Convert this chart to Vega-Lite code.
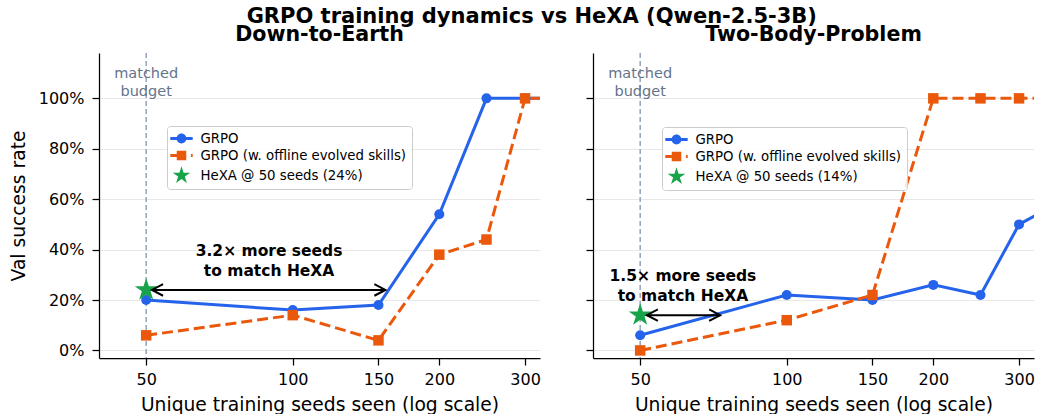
{
  "$schema": "https://vega.github.io/schema/vega-lite/v6.json",
  "background": "white",
  "padding": {"left": 9, "top": 5, "right": 0, "bottom": 0},
  "title": {"text": "GRPO training dynamics vs HeXA (Qwen-2.5-3B)", "anchor": "middle", "fontSize": 21, "fontWeight": "bold", "offset": -2, "dx": 10},
  "datasets": {
    "d2e": [
      {"seeds": 50, "rate": 20, "series": "GRPO"},
      {"seeds": 100, "rate": 16, "series": "GRPO"},
      {"seeds": 150, "rate": 18, "series": "GRPO"},
      {"seeds": 200, "rate": 54, "series": "GRPO"},
      {"seeds": 250, "rate": 100, "series": "GRPO"},
      {"seeds": 300, "rate": 100, "series": "GRPO"},
      {"seeds": 350, "rate": 100, "series": "GRPO"},
      {"seeds": 50, "rate": 6, "series": "GRPO (w. offline evolved skills)"},
      {"seeds": 100, "rate": 14, "series": "GRPO (w. offline evolved skills)"},
      {"seeds": 150, "rate": 4, "series": "GRPO (w. offline evolved skills)"},
      {"seeds": 200, "rate": 38, "series": "GRPO (w. offline evolved skills)"},
      {"seeds": 250, "rate": 44, "series": "GRPO (w. offline evolved skills)"},
      {"seeds": 300, "rate": 100, "series": "GRPO (w. offline evolved skills)"},
      {"seeds": 350, "rate": 100, "series": "GRPO (w. offline evolved skills)"}
    ],
    "tbp": [
      {"seeds": 50, "rate": 6, "series": "GRPO"},
      {"seeds": 100, "rate": 22, "series": "GRPO"},
      {"seeds": 150, "rate": 20, "series": "GRPO"},
      {"seeds": 200, "rate": 26, "series": "GRPO"},
      {"seeds": 250, "rate": 22, "series": "GRPO"},
      {"seeds": 300, "rate": 50, "series": "GRPO"},
      {"seeds": 350, "rate": 57, "series": "GRPO"},
      {"seeds": 50, "rate": 0, "series": "GRPO (w. offline evolved skills)"},
      {"seeds": 100, "rate": 12, "series": "GRPO (w. offline evolved skills)"},
      {"seeds": 150, "rate": 22, "series": "GRPO (w. offline evolved skills)"},
      {"seeds": 200, "rate": 100, "series": "GRPO (w. offline evolved skills)"},
      {"seeds": 250, "rate": 100, "series": "GRPO (w. offline evolved skills)"},
      {"seeds": 300, "rate": 100, "series": "GRPO (w. offline evolved skills)"},
      {"seeds": 350, "rate": 100, "series": "GRPO (w. offline evolved skills)"}
    ]
  },
  "spacing": 44,
  "hconcat": [
    {
      "title": {"text": "Down-to-Earth", "baseline": "alphabetic", "offset": -9, "fontSize": 20.6},
      "width": 441,
      "height": 305,
      "data": {"name": "d2e"},
      "layer": [
        {
          "data": {"values": [{}]},
          "mark": {"type": "rule", "color": "#94a3b8", "strokeWidth": 1.5, "strokeDash": [5, 3]},
          "encoding": {"x": {"datum": 50, "type": "quantitative", "scale": {"type": "log", "domain": [40, 322], "nice": false}}}
        },
        {
          "data": {"values": [{}]},
          "mark": {"type": "text", "color": "#64748b", "fontSize": 14.5, "lineHeight": 17.7, "align": "center", "baseline": "middle"},
          "encoding": {
            "x": {"datum": 50, "type": "quantitative", "scale": {"type": "log", "domain": [40, 322], "nice": false}},
            "y": {"datum": 109.7, "type": "quantitative", "scale": {"domain": [-3, 118], "nice": false, "zero": false}},
            "text": {"value": ["matched", "budget"]}
          }
        },
        {
          "transform": [{"filter": "datum.series === 'GRPO'"}],
          "mark": {"type": "line", "strokeWidth": 3, "clip": true, "color": "#2563eb"},
          "encoding": {
            "x": {"field": "seeds", "type": "quantitative", "scale": {"type": "log", "domain": [40, 322], "nice": false},
                  "axis": {"values": [50, 100, 150, 200, 300], "format": "d", "title": "Unique training seeds seen (log scale)", "grid": false, "tickSize": 7, "labelPadding": 6, "titlePadding": 8}},
            "y": {"field": "rate", "type": "quantitative", "scale": {"domain": [-3, 118], "nice": false, "zero": false},
                  "axis": {"values": [0, 20, 40, 60, 80, 100], "labelExpr": "datum.value + '%'", "title": "Val success rate", "grid": true, "tickSize": 7, "labelPadding": 8, "titlePadding": 10}}
          }
        },
        {
          "transform": [{"filter": "datum.series === 'GRPO'"}],
          "mark": {"type": "point", "shape": "circle", "filled": true, "size": 100, "opacity": 1, "clip": true, "color": "#2563eb"},
          "encoding": {
            "x": {"field": "seeds", "type": "quantitative", "scale": {"type": "log", "domain": [40, 322], "nice": false}},
            "y": {"field": "rate", "type": "quantitative", "scale": {"domain": [-3, 118], "nice": false, "zero": false}}
          }
        },
        {
          "transform": [{"filter": "datum.series !== 'GRPO'"}],
          "mark": {"type": "line", "strokeWidth": 3, "strokeDash": [11, 5], "clip": true, "color": "#ea580c"},
          "encoding": {
            "x": {"field": "seeds", "type": "quantitative", "scale": {"type": "log", "domain": [40, 322], "nice": false}},
            "y": {"field": "rate", "type": "quantitative", "scale": {"domain": [-3, 118], "nice": false, "zero": false}}
          }
        },
        {
          "transform": [{"filter": "datum.series !== 'GRPO'"}],
          "mark": {"type": "point", "shape": "square", "filled": true, "size": 110, "opacity": 1, "clip": true, "color": "#ea580c"},
          "encoding": {
            "x": {"field": "seeds", "type": "quantitative", "scale": {"type": "log", "domain": [40, 322], "nice": false}},
            "y": {"field": "rate", "type": "quantitative", "scale": {"domain": [-3, 118], "nice": false, "zero": false}}
          }
        },
        {
          "data": {"values": [{"seeds": 50, "rate": 24}]},
          "mark": {"type": "point", "shape": "M0,-1L0.2234,-0.3075L0.9511,-0.309L0.3614,0.1174L0.5878,0.809L0,0.38L-0.5878,0.809L-0.3614,0.1174L-0.9511,-0.309L-0.2234,-0.3075Z", "filled": true, "color": "#16a34a", "size": 576, "opacity": 1},
          "encoding": {
            "x": {"field": "seeds", "type": "quantitative", "scale": {"type": "log", "domain": [40, 322], "nice": false}},
            "y": {"field": "rate", "type": "quantitative", "scale": {"domain": [-3, 118], "nice": false, "zero": false}}
          }
        },
        {
          "data": {"values": [{"from": 51.4, "to": 155, "level": 24}]},
          "mark": {"type": "rule", "color": "black", "strokeWidth": 2},
          "encoding": {
            "x": {"field": "from", "type": "quantitative", "scale": {"type": "log", "domain": [40, 322], "nice": false}},
            "x2": {"field": "to"},
            "y": {"field": "level", "type": "quantitative", "scale": {"domain": [-3, 118], "nice": false, "zero": false}}
          }
        },
        {
          "data": {"values": [{"from": 51.4, "level": 24}]},
          "mark": {"type": "point", "shape": "M1.9,-1L0,0L1.9,1", "filled": false, "stroke": "black", "strokeWidth": 2, "size": 135, "opacity": 1},
          "encoding": {
            "x": {"field": "from", "type": "quantitative", "scale": {"type": "log", "domain": [40, 322], "nice": false}},
            "y": {"field": "level", "type": "quantitative", "scale": {"domain": [-3, 118], "nice": false, "zero": false}}
          }
        },
        {
          "data": {"values": [{"to": 155, "level": 24}]},
          "mark": {"type": "point", "shape": "M-1.9,-1L0,0L-1.9,1", "filled": false, "stroke": "black", "strokeWidth": 2, "size": 135, "opacity": 1},
          "encoding": {
            "x": {"field": "to", "type": "quantitative", "scale": {"type": "log", "domain": [40, 322], "nice": false}},
            "y": {"field": "level", "type": "quantitative", "scale": {"domain": [-3, 118], "nice": false, "zero": false}}
          }
        },
        {
          "data": {"values": [{"cx": 89.4, "cy": 39.4}]},
          "mark": {"type": "text", "color": "black", "fontSize": 15.5, "fontWeight": "bold", "lineHeight": 20, "align": "center", "baseline": "middle"},
          "encoding": {
            "x": {"field": "cx", "type": "quantitative", "scale": {"type": "log", "domain": [40, 322], "nice": false}},
            "y": {"field": "cy", "type": "quantitative", "scale": {"domain": [-3, 118], "nice": false, "zero": false}},
            "text": {"value": ["3.2× more seeds", "to match HeXA"]}
          }
        },
        {
          "data": {"values": [{"series": "GRPO"}, {"series": "GRPO (w. offline evolved skills)"}, {"series": "HeXA @ 50 seeds (24%)"}]},
          "mark": {"type": "point", "filled": true, "opacity": 0},
          "encoding": {
            "color": {
              "field": "series", "type": "nominal",
              "scale": {"domain": ["GRPO", "GRPO (w. offline evolved skills)", "HeXA @ 50 seeds (24%)"], "range": ["#2563eb", "#ea580c", "#16a34a"]},
              "legend": {
                "title": null, "orient": "none", "legendX": 68, "legendY": 73,
                "symbolSize": 196, "symbolOffset": 2, "symbolOpacity": 1, "symbolStrokeColor": "transparent", "symbolStrokeWidth": 0,
                "labelOffset": 12, "labelFontSize": 13.3, "labelColor": "black", "labelLimit": 400,
                "rowPadding": 3, "padding": 5.5, "strokeColor": "#cccccc", "fillColor": "rgba(255,255,255,0.85)", "cornerRadius": 3
              }
            },
            "shape": {
              "field": "series", "type": "nominal",
              "scale": {
                "domain": ["GRPO", "GRPO (w. offline evolved skills)", "HeXA @ 50 seeds (24%)"],
                "range": [
                  "M-1.6,-0.21H-0.5V0.21H-1.6Z M0.5,-0.21H1.6V0.21H0.5Z M-0.7,0A0.7,0.7 0 1,1 0.7,0A0.7,0.7 0 1,1 -0.7,0Z",
                  "M-1.6,-0.21H-0.6V0.21H-1.6Z M1.35,-0.21H1.6V0.21H1.35Z M-0.68,-0.68H0.68V0.68H-0.68Z",
                  "M0,-1.32L0.2939,-0.4045L1.2555,-0.4079L0.4755,0.1545L0.7759,1.0679L0,0.5L-0.7759,1.0679L-0.4755,0.1545L-1.2555,-0.4079L-0.2939,-0.4045Z"
                ]
              },
              "legend": {
                "title": null, "orient": "none", "legendX": 68, "legendY": 73,
                "symbolSize": 196, "symbolOffset": 2, "symbolOpacity": 1, "symbolStrokeColor": "transparent", "symbolStrokeWidth": 0,
                "labelOffset": 12, "labelFontSize": 13.3, "labelColor": "black", "labelLimit": 400,
                "rowPadding": 3, "padding": 5.5, "strokeColor": "#cccccc", "fillColor": "rgba(255,255,255,0.85)", "cornerRadius": 3
              }
            }
          }
        }
      ]
    },
    {
      "title": {"text": "Two-Body-Problem", "baseline": "alphabetic", "offset": -9, "fontSize": 20.6},
      "width": 441,
      "height": 305,
      "data": {"name": "tbp"},
      "layer": [
        {
          "data": {"values": [{}]},
          "mark": {"type": "rule", "color": "#94a3b8", "strokeWidth": 1.5, "strokeDash": [5, 3]},
          "encoding": {"x": {"datum": 50, "type": "quantitative", "scale": {"type": "log", "domain": [40, 322], "nice": false}}}
        },
        {
          "data": {"values": [{}]},
          "mark": {"type": "text", "color": "#64748b", "fontSize": 14.5, "lineHeight": 17.7, "align": "center", "baseline": "middle"},
          "encoding": {
            "x": {"datum": 50, "type": "quantitative", "scale": {"type": "log", "domain": [40, 322], "nice": false}},
            "y": {"datum": 109.7, "type": "quantitative", "scale": {"domain": [-3, 118], "nice": false, "zero": false}},
            "text": {"value": ["matched", "budget"]}
          }
        },
        {
          "transform": [{"filter": "datum.series === 'GRPO'"}],
          "mark": {"type": "line", "strokeWidth": 3, "clip": true, "color": "#2563eb"},
          "encoding": {
            "x": {"field": "seeds", "type": "quantitative", "scale": {"type": "log", "domain": [40, 322], "nice": false},
                  "axis": {"values": [50, 100, 150, 200, 300], "format": "d", "title": "Unique training seeds seen (log scale)", "grid": false, "tickSize": 7, "labelPadding": 6, "titlePadding": 8}},
            "y": {"field": "rate", "type": "quantitative", "scale": {"domain": [-3, 118], "nice": false, "zero": false},
                  "axis": {"values": [0, 20, 40, 60, 80, 100], "labels": false, "title": null, "grid": true, "tickSize": 7}}
          }
        },
        {
          "transform": [{"filter": "datum.series === 'GRPO'"}],
          "mark": {"type": "point", "shape": "circle", "filled": true, "size": 100, "opacity": 1, "clip": true, "color": "#2563eb"},
          "encoding": {
            "x": {"field": "seeds", "type": "quantitative", "scale": {"type": "log", "domain": [40, 322], "nice": false}},
            "y": {"field": "rate", "type": "quantitative", "scale": {"domain": [-3, 118], "nice": false, "zero": false}}
          }
        },
        {
          "transform": [{"filter": "datum.series !== 'GRPO'"}],
          "mark": {"type": "line", "strokeWidth": 3, "strokeDash": [11, 5], "clip": true, "color": "#ea580c"},
          "encoding": {
            "x": {"field": "seeds", "type": "quantitative", "scale": {"type": "log", "domain": [40, 322], "nice": false}},
            "y": {"field": "rate", "type": "quantitative", "scale": {"domain": [-3, 118], "nice": false, "zero": false}}
          }
        },
        {
          "transform": [{"filter": "datum.series !== 'GRPO'"}],
          "mark": {"type": "point", "shape": "square", "filled": true, "size": 110, "opacity": 1, "clip": true, "color": "#ea580c"},
          "encoding": {
            "x": {"field": "seeds", "type": "quantitative", "scale": {"type": "log", "domain": [40, 322], "nice": false}},
            "y": {"field": "rate", "type": "quantitative", "scale": {"domain": [-3, 118], "nice": false, "zero": false}}
          }
        },
        {
          "data": {"values": [{"seeds": 50, "rate": 14}]},
          "mark": {"type": "point", "shape": "M0,-1L0.2234,-0.3075L0.9511,-0.309L0.3614,0.1174L0.5878,0.809L0,0.38L-0.5878,0.809L-0.3614,0.1174L-0.9511,-0.309L-0.2234,-0.3075Z", "filled": true, "color": "#16a34a", "size": 576, "opacity": 1},
          "encoding": {
            "x": {"field": "seeds", "type": "quantitative", "scale": {"type": "log", "domain": [40, 322], "nice": false}},
            "y": {"field": "rate", "type": "quantitative", "scale": {"domain": [-3, 118], "nice": false, "zero": false}}
          }
        },
        {
          "data": {"values": [{"from": 51.6, "to": 73, "level": 14}]},
          "mark": {"type": "rule", "color": "black", "strokeWidth": 2},
          "encoding": {
            "x": {"field": "from", "type": "quantitative", "scale": {"type": "log", "domain": [40, 322], "nice": false}},
            "x2": {"field": "to"},
            "y": {"field": "level", "type": "quantitative", "scale": {"domain": [-3, 118], "nice": false, "zero": false}}
          }
        },
        {
          "data": {"values": [{"from": 51.6, "level": 14}]},
          "mark": {"type": "point", "shape": "M1.9,-1L0,0L1.9,1", "filled": false, "stroke": "black", "strokeWidth": 2, "size": 135, "opacity": 1},
          "encoding": {
            "x": {"field": "from", "type": "quantitative", "scale": {"type": "log", "domain": [40, 322], "nice": false}},
            "y": {"field": "level", "type": "quantitative", "scale": {"domain": [-3, 118], "nice": false, "zero": false}}
          }
        },
        {
          "data": {"values": [{"to": 73, "level": 14}]},
          "mark": {"type": "point", "shape": "M-1.9,-1L0,0L-1.9,1", "filled": false, "stroke": "black", "strokeWidth": 2, "size": 135, "opacity": 1},
          "encoding": {
            "x": {"field": "to", "type": "quantitative", "scale": {"type": "log", "domain": [40, 322], "nice": false}},
            "y": {"field": "level", "type": "quantitative", "scale": {"domain": [-3, 118], "nice": false, "zero": false}}
          }
        },
        {
          "data": {"values": [{"cx": 61.2, "cy": 29.5}]},
          "mark": {"type": "text", "color": "black", "fontSize": 15.5, "fontWeight": "bold", "lineHeight": 20, "align": "center", "baseline": "middle"},
          "encoding": {
            "x": {"field": "cx", "type": "quantitative", "scale": {"type": "log", "domain": [40, 322], "nice": false}},
            "y": {"field": "cy", "type": "quantitative", "scale": {"domain": [-3, 118], "nice": false, "zero": false}},
            "text": {"value": ["1.5× more seeds", "to match HeXA"]}
          }
        },
        {
          "data": {"values": [{"series": "GRPO"}, {"series": "GRPO (w. offline evolved skills)"}, {"series": "HeXA @ 50 seeds (14%)"}]},
          "mark": {"type": "point", "filled": true, "opacity": 0},
          "encoding": {
            "color": {
              "field": "series", "type": "nominal",
              "scale": {"domain": ["GRPO", "GRPO (w. offline evolved skills)", "HeXA @ 50 seeds (14%)"], "range": ["#2563eb", "#ea580c", "#16a34a"]},
              "legend": {
                "title": null, "orient": "none", "legendX": 69, "legendY": 74,
                "symbolSize": 196, "symbolOffset": 2, "symbolOpacity": 1, "symbolStrokeColor": "transparent", "symbolStrokeWidth": 0,
                "labelOffset": 12, "labelFontSize": 13.3, "labelColor": "black", "labelLimit": 400,
                "rowPadding": 3, "padding": 5.5, "strokeColor": "#cccccc", "fillColor": "rgba(255,255,255,0.85)", "cornerRadius": 3
              }
            },
            "shape": {
              "field": "series", "type": "nominal",
              "scale": {
                "domain": ["GRPO", "GRPO (w. offline evolved skills)", "HeXA @ 50 seeds (14%)"],
                "range": [
                  "M-1.6,-0.21H-0.5V0.21H-1.6Z M0.5,-0.21H1.6V0.21H0.5Z M-0.7,0A0.7,0.7 0 1,1 0.7,0A0.7,0.7 0 1,1 -0.7,0Z",
                  "M-1.6,-0.21H-0.6V0.21H-1.6Z M1.35,-0.21H1.6V0.21H1.35Z M-0.68,-0.68H0.68V0.68H-0.68Z",
                  "M0,-1.32L0.2939,-0.4045L1.2555,-0.4079L0.4755,0.1545L0.7759,1.0679L0,0.5L-0.7759,1.0679L-0.4755,0.1545L-1.2555,-0.4079L-0.2939,-0.4045Z"
                ]
              },
              "legend": {
                "title": null, "orient": "none", "legendX": 69, "legendY": 74,
                "symbolSize": 196, "symbolOffset": 2, "symbolOpacity": 1, "symbolStrokeColor": "transparent", "symbolStrokeWidth": 0,
                "labelOffset": 12, "labelFontSize": 13.3, "labelColor": "black", "labelLimit": 400,
                "rowPadding": 3, "padding": 5.5, "strokeColor": "#cccccc", "fillColor": "rgba(255,255,255,0.85)", "cornerRadius": 3
              }
            }
          }
        }
      ]
    }
  ],
  "resolve": {"scale": {"color": "independent", "shape": "independent", "x": "independent", "y": "independent"}, "legend": {"color": "independent", "shape": "independent"}},
  "config": {
    "font": "DejaVu Sans",
    "view": {"stroke": null},
    "axis": {
      "domainColor": "black", "domainWidth": 1.25, "tickColor": "black", "tickWidth": 1.25,
      "labelFontSize": 16, "labelColor": "black", "labelFont": "DejaVu Sans",
      "titleFontSize": 18.7, "titleFontWeight": "normal", "titleColor": "black", "titleFont": "DejaVu Sans",
      "gridColor": "#e8e8e8", "gridWidth": 1
    },
    "title": {"fontSize": 20, "fontWeight": "bold", "font": "DejaVu Sans", "color": "black"}
  }
}
